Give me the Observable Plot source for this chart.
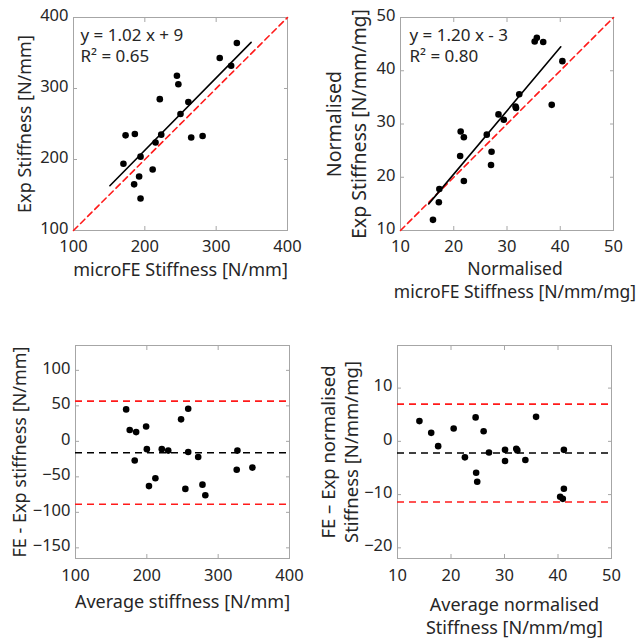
<!DOCTYPE html>
<html><head><meta charset="utf-8">
<script src="https://cdn.jsdelivr.net/npm/d3@7"></script>
<script src="https://cdn.jsdelivr.net/npm/@observablehq/plot@0.6"></script>
<style>
html,body{margin:0;padding:0;background:#fff;}
#root{position:relative;width:639px;height:639px;overflow:hidden;background:#fff;}
#root svg{position:absolute;background:transparent;overflow:visible;}
</style></head><body><div id="root"></div>
<script>
// ---------- Panel A: microFE vs experimental stiffness [N/mm]
const feStiffness  = [329,305,321,245,247,221,261,250,173,186,223,265,281,215,194,170,211,192,185,194];
const expStiffness = [364,343,332,318,306,285,281,264,234,236,235,231,233,224,204,194,186,176,165,145];
const fitA_x = [151,349];
const fitA_y = [163,365];
const textA = ["y = 1.02 x + 9", "R² = 0.65"];

// ---------- Panel B: normalised stiffness [N/mm/mg]
const feNorm  = [16.1,17.2,17.3,21.2,21.3,21.9,21.9,26.2,27.1,27.0,28.4,29.4,31.7,31.6,32.3,35.2,35.6,36.8,38.4,40.4];
const expNorm = [12.0,15.3,17.8,24.0,28.6,27.5,19.3,28.0,24.8,22.3,31.8,30.8,33.0,33.3,35.6,45.5,46.2,45.4,33.6,41.8];
const fitB_x = [15.3,40.1];
const fitB_y = [15.0,44.5];
const textB = ["y = 1.20 x - 3", "R² = 0.80"];

// ---------- Panel C: Bland-Altman stiffness [N/mm]
const avgStiff  = [171,176,185,199,200,203,212,183,221,230,248,258,258,254,272,278,282,326,327,348];
const diffStiff = [45,16,13,21,-11,-63,-52,-27,-11,-13,31,46,-15,-67,-22,-61,-76,-40,-13,-37];
const limitsC = {upper: 56.6, mean: -16, lower: -88.6};

// ---------- Panel D: Bland-Altman normalised stiffness [N/mm/mg]
const avgNorm  = [14.1,16.3,17.6,20.5,22.6,24.6,24.7,24.9,26.1,27.1,30.1,30.1,32.2,32.4,33.9,35.9,40.4,40.9,41.1,41.1];
const diffNorm = [3.8,1.6,-0.9,2.4,-3.0,4.5,-5.9,-7.6,1.9,-2.1,-1.6,-3.7,-1.4,-1.7,-3.5,4.6,-10.4,-10.8,-8.9,-1.6];
const limitsD = {upper: 7.0, mean: -2.2, lower: -11.4};

// ---------- axes
const ticksA = [100,200,300,400];
const ticksB = [10,20,30,40,50];
const ticksCy = [-150,-100,-50,0,50,100];
const ticksDy = [-20,-10,0,10];

const ARIAL = "'Liberation Sans', Arimo, Arial, sans-serif";
const CALIBRI = "Lato, 'Open Sans', sans-serif";
const FRAME = "#a6a6a6";
const TXT = "#262626";
const RED = "#ff1a1a";

function boxAxes(xt, yt, pad) {
  return [
    Plot.frame({stroke: FRAME, strokeWidth: 1}),
    Plot.axisX(xt, {anchor: "bottom", tickSize: -4, tickFormat: () => "", stroke: FRAME, label: null}),
    Plot.axisX(xt, {anchor: "top", tickSize: -4, tickFormat: () => "", stroke: FRAME, label: null}),
    Plot.axisY(yt, {anchor: "left", tickSize: -4, tickFormat: () => "", stroke: FRAME, label: null}),
    Plot.axisY(yt, {anchor: "right", tickSize: -4, tickFormat: () => "", stroke: FRAME, label: null}),
    Plot.axisX(xt, {anchor: "bottom", tickSize: 0, tickPadding: pad, fill: TXT, fontSize: 16.5, label: null, ariaLabel: "font-arial"}),
    Plot.axisY(yt, {anchor: "left", tickSize: 0, tickPadding: 5, dy: -2, fill: TXT, fontSize: 16.5, label: null, ariaLabel: "font-arial"})
  ];
}

function place(svg, left, top) {
  svg.style.left = left + "px";
  svg.style.top = top + "px";
  document.getElementById("root").appendChild(svg);
  d3.select(svg).selectAll('g[aria-label="font-arial"]').style("font-family", ARIAL);
  d3.select(svg).selectAll('g[aria-label="font-arial"] text').style("font-family", ARIAL);
  d3.select(svg).selectAll('g[aria-label="font-calibri"]').style("font-family", CALIBRI);
  d3.select(svg).selectAll('g[aria-label="font-calibri"] text').style("font-family", CALIBRI);
}

// Panel A
const ptsA = feStiffness.map((x, i) => ({x, y: expStiffness[i]}));
const fitA = fitA_x.map((x, i) => ({x, y: fitA_y[i]}));
const plotA = Plot.plot({
  width: 320, height: 320,
  marginLeft: 73, marginTop: 17, marginRight: 33, marginBottom: 90,
  x: {domain: [100, 400], label: null},
  y: {domain: [100, 400], label: null},
  marks: [
    ...boxAxes(ticksA, ticksA, 10),
    Plot.line([{x: ticksA[0], y: ticksA[0]}, {x: ticksA[3], y: ticksA[3]}], {x: "x", y: "y", stroke: RED, strokeWidth: 1.6, strokeDasharray: "6,4"}),
    Plot.line(fitA, {x: "x", y: "y", stroke: "#000", strokeWidth: 1.6}),
    Plot.dot(ptsA, {x: "x", y: "y", r: 3.3, fill: "#000", stroke: null}),
    Plot.text([textA.join("\n")], {frameAnchor: "top-left", dx: 7, dy: 8, textAnchor: "start", lineAnchor: "top", fontSize: 17, lineHeight: 1.25, fill: TXT, ariaLabel: "font-calibri"}),
    Plot.text(["microFE Stiffness [N/mm]"], {frameAnchor: "bottom", dy: 45, textAnchor: "middle", fontSize: 18, fill: TXT, ariaLabel: "font-arial"}),
    Plot.text(["Exp Stiffness [N/mm]"], {frameAnchor: "left", dx: -48, rotate: -90, textAnchor: "middle", fontSize: 18, fill: TXT, ariaLabel: "font-arial"})
  ]
});
place(plotA, 0, 0);

// Panel B
const ptsB = feNorm.map((x, i) => ({x, y: expNorm[i]}));
const fitB = fitB_x.map((x, i) => ({x, y: fitB_y[i]}));
const plotB = Plot.plot({
  width: 319, height: 320,
  marginLeft: 80, marginTop: 17, marginRight: 26, marginBottom: 90,
  x: {domain: [10, 50], label: null},
  y: {domain: [10, 50], label: null},
  marks: [
    ...boxAxes(ticksB, ticksB, 10),
    Plot.line([{x: 10, y: 10}, {x: 50, y: 50}], {x: "x", y: "y", stroke: RED, strokeWidth: 1.6, strokeDasharray: "6,4"}),
    Plot.line(fitB, {x: "x", y: "y", stroke: "#000", strokeWidth: 1.6}),
    Plot.dot(ptsB, {x: "x", y: "y", r: 3.3, fill: "#000", stroke: null}),
    Plot.text([textB.join("\n")], {frameAnchor: "top-left", dx: 9, dy: 8, textAnchor: "start", lineAnchor: "top", fontSize: 17, lineHeight: 1.25, fill: TXT, ariaLabel: "font-calibri"}),
    Plot.text(["Normalised\nmicroFE Stiffness [N/mm/mg]"], {frameAnchor: "bottom", dx: 8, dy: 27, textAnchor: "middle", lineAnchor: "top", lineHeight: 1.37, fontSize: 17.5, fill: TXT, ariaLabel: "font-calibri"}),
    Plot.text(["Normalised\nExp Stiffness [N/mm/mg]"], {frameAnchor: "left", dx: -55, rotate: -90, textAnchor: "middle", lineAnchor: "middle", lineHeight: 1.3, fontSize: 19.5, fill: TXT, ariaLabel: "font-calibri"})
  ]
});
place(plotB, 320, 0);

// Panel C
const ptsC = avgStiff.map((x, i) => ({x, y: diffStiff[i]}));
const plotC = Plot.plot({
  width: 320, height: 319,
  marginLeft: 75, marginTop: 25, marginRight: 31, marginBottom: 81,
  x: {domain: [100, 400], label: null},
  y: {domain: [-165, 135], label: null},
  marks: [
    ...boxAxes(ticksA, ticksCy, 11),
    Plot.ruleY([limitsC.upper, limitsC.lower], {stroke: RED, strokeWidth: 1.6, strokeDasharray: "7,5"}),
    Plot.ruleY([limitsC.mean], {stroke: "#000", strokeWidth: 1.6, strokeDasharray: "7,5"}),
    Plot.dot(ptsC, {x: "x", y: "y", r: 3.3, fill: "#000", stroke: null}),
    Plot.text(["Average stiffness [N/mm]"], {frameAnchor: "bottom", dy: 49, textAnchor: "middle", fontSize: 18, fill: TXT, ariaLabel: "font-arial"}),
    Plot.text(["FE - Exp stiffness [N/mm]"], {frameAnchor: "left", dx: -55, rotate: -90, textAnchor: "middle", fontSize: 18, fill: TXT, ariaLabel: "font-arial"})
  ]
});
place(plotC, 0, 320);

// Panel D
const ptsD = avgNorm.map((x, i) => ({x, y: diffNorm[i]}));
const plotD = Plot.plot({
  width: 319, height: 319,
  marginLeft: 77, marginTop: 25, marginRight: 28, marginBottom: 81,
  x: {domain: [10, 50], label: null},
  y: {domain: [-22, 18], label: null},
  marks: [
    ...boxAxes(ticksB, ticksDy, 11),
    Plot.ruleY([limitsD.upper, limitsD.lower], {stroke: RED, strokeWidth: 1.6, strokeDasharray: "7,5"}),
    Plot.ruleY([limitsD.mean], {stroke: "#000", strokeWidth: 1.6, strokeDasharray: "7,5"}),
    Plot.dot(ptsD, {x: "x", y: "y", r: 3.3, fill: "#000", stroke: null}),
    Plot.text(["Average normalised\nStiffness [N/mm/mg]"], {frameAnchor: "bottom", dx: 10, dy: 35, textAnchor: "middle", lineAnchor: "top", lineHeight: 1.33, fontSize: 18, fill: TXT, ariaLabel: "font-calibri"}),
    Plot.text(["FE – Exp normalised\nStiffness [N/mm/mg]"], {frameAnchor: "left", dx: -58, rotate: -90, textAnchor: "middle", lineAnchor: "middle", lineHeight: 1.25, fontSize: 18.5, fill: TXT, ariaLabel: "font-calibri"})
  ]
});
place(plotD, 320, 320);
</script></body></html>
